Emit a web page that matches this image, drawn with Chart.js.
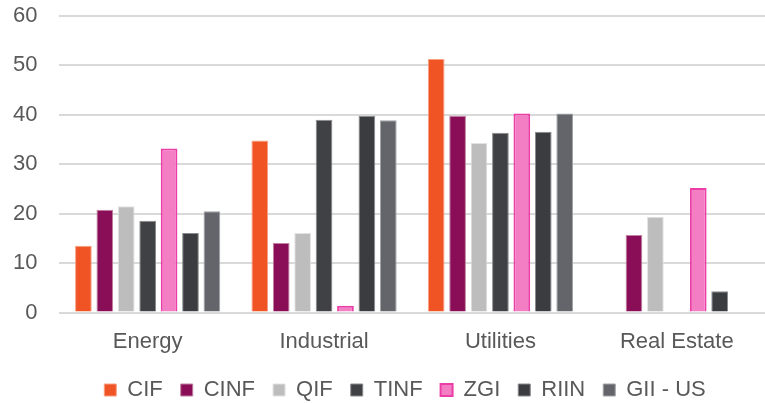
<!DOCTYPE html>
<html>
<head>
<meta charset="utf-8">
<script src="https://cdn.jsdelivr.net/npm/chart.js@4"></script>
<style>
  html,body{margin:0;padding:0;background:#fff;}
  #wrap{width:765px;height:403px;}
</style>
</head>
<body>
<div id="wrap"><canvas id="c"></canvas></div>
<script>
const categories = ['Energy','Industrial','Utilities','Real Estate'];
const cif   = [13.5, 34.8, 51.3, null];
const cinf  = [20.8, 14.1, 39.8, 15.7];
const qif   = [21.5, 16.1, 34.3, 19.4];
const tinf  = [18.6, 39.0, 36.4, null];
const zgi   = [33.2, 1.4, 40.3, 25.2];
const riin  = [16.1, 39.8, 36.6, 4.3];
const gii   = [20.5, 38.9, 40.3, null];
const yTicks = [0,10,20,30,40,50,60];

const FONT = 'Liberation Sans';

function ds(label, data, fill, border, bw){
  return {label, data, backgroundColor:fill, borderColor:border, borderWidth:bw};
}

// nudge the legend a bit (it is centred under the plot, not the canvas)
const legendNudge = {
  id:'legendNudge',
  afterLayout(chart){
    const l = chart.legend;
    l.left += 27; l.right += 27;
    l.top -= 2; l.bottom -= 2;
  }
};

new Chart(document.getElementById('c'), {
  type:'bar',
  data:{
    labels:categories,
    datasets:[
      ds('CIF', cif, '#f05324', '#f7a080', 1),
      ds('CINF', cinf, '#8a0e57', '#c080a0', 1),
      ds('QIF', qif, '#bdbdbd', '#e2e2e2', 1),
      ds('TINF', tinf, '#404145', '#8a8b8e', 1),
      ds('ZGI', zgi, '#f47ec4', '#eb3ea6', 2),
      ds('RIIN', riin, '#3b3c40', '#8a8b8e', 1),
      ds('GII - US', gii, '#63656a', '#a0a2a5', 1)
    ]
  },
  options:{
    responsive:true,
    maintainAspectRatio:false,
    animation:false,
    datasets:{bar:{categoryPercentage:0.85, barPercentage:0.78}},
    layout:{padding:{left:-9,right:0,top:16,bottom:-10}},
    plugins:{
      tooltip:{enabled:false},
      legend:{
        position:'bottom',
        labels:{color:'#595959', boxWidth:12, boxHeight:12, padding:18,
          font:{family:FONT, size:22}}
      }
    },
    scales:{
      x:{
        grid:{display:false},
        border:{display:false},
        ticks:{color:'#595959', padding:8, font:{family:FONT, size:22}}
      },
      y:{
        min:0, max:60,
        afterBuildTicks:(ax)=>{ ax.ticks = yTicks.map(v=>({value:v})); },
        afterFit:(ax)=>{ ax.paddingTop = 0; ax.paddingBottom = 0; },
        grid:{color:'#d9d9d9', lineWidth:2, drawTicks:false},
        border:{display:false},
        ticks:{color:'#595959', padding:22, font:{family:FONT, size:22}}
      }
    }
  },
  plugins:[legendNudge]
});
</script>
</body>
</html>
